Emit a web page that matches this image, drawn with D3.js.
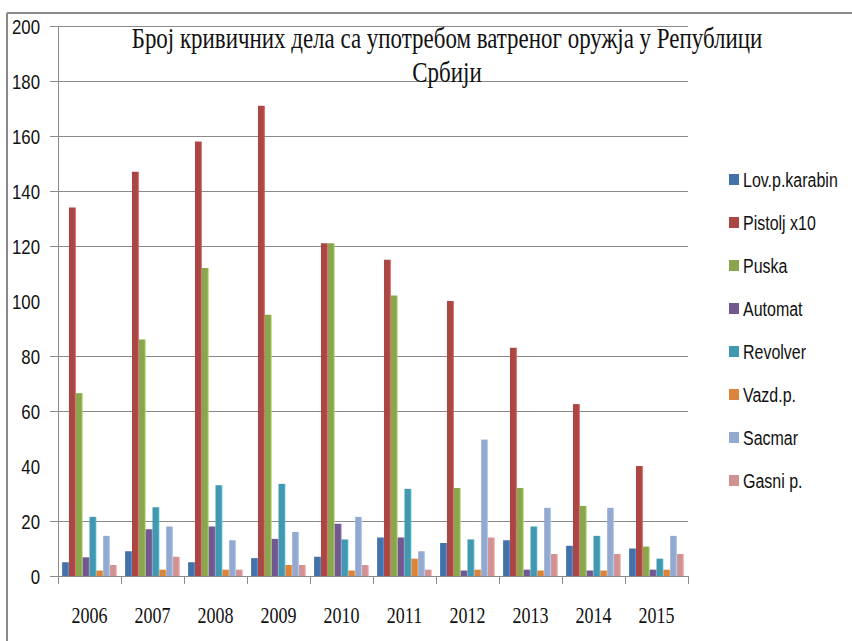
<!DOCTYPE html>
<html>
<head>
<meta charset="utf-8">
<script src="https://cdn.jsdelivr.net/npm/d3@7"></script>
<style>
  body { margin: 0; background: #fff; }
  text { fill: #111; }
</style>
</head>
<body>
<script>
var years = ['2006', '2007', '2008', '2009', '2010', '2011', '2012', '2013', '2014', '2015'];
var seriesNames = ['Lov.p.karabin', 'Pistolj x10', 'Puska', 'Automat', 'Revolver', 'Vazd.p.', 'Sacmar', 'Gasni p.'];
var seriesColors = ['#4372AA', '#AA4643', '#89A54E', '#71588F', '#4198AF', '#DB843D', '#93A9CF', '#D19392'];

var lovKarabin = [5, 9, 5, 6.5, 7, 14, 12, 13, 11, 10];
var pistolj    = [134, 147, 158, 171, 121, 115, 100, 83, 62.5, 40];
var puska      = [66.5, 86, 112, 95, 121, 102, 32, 32, 25.5, 10.7];
var automat    = [6.8, 17, 18, 13.5, 19, 14, 2, 2.3, 2, 2.3];
var revolver   = [21.5, 25, 33, 33.5, 13.3, 31.7, 13.3, 18, 14.6, 6.3];
var vazd       = [2, 2.3, 2.3, 4, 2, 6.3, 2.3, 2, 2, 2.3];
var sacmar     = [14.6, 18, 13, 16, 21.5, 9, 49.6, 24.8, 24.8, 14.6];
var gasni      = [4, 7, 2.3, 4, 4, 2.3, 14, 8, 8, 8];
var allSeries = [lovKarabin, pistolj, puska, automat, revolver, vazd, sacmar, gasni];

var yTicks = [0, 20, 40, 60, 80, 100, 120, 140, 160, 180, 200];
var missingGrid = [40, 100]; // these grid lines are not drawn in the picture

var titleLines = ['Број кривичних дела са употребом ватреног оружја у Републици', 'Србији'];

var width = 852, height = 641;
var svg = d3.select('body').append('svg')
    .attr('width', width)
    .attr('height', height);

// frame
svg.append('line').attr('x1', 7).attr('x2', width).attr('y1', 13).attr('y2', 13)
    .attr('stroke', '#8a8a8a').attr('stroke-width', 2);
svg.append('line').attr('x1', 7).attr('x2', 7).attr('y1', 13).attr('y2', height)
    .attr('stroke', '#8a8a8a').attr('stroke-width', 2);

var plotLeft = 58, plotRight = 688, plotTop = 26, plotBottom = 576;

var x0 = d3.scaleBand().domain(years).range([plotLeft, plotRight]).padding(0);
var x1 = d3.scaleBand().domain(d3.range(seriesNames.length))
    .range([0, x0.bandwidth()]).paddingInner(0).paddingOuter(0.6);
var y = d3.scaleLinear().domain([0, 200]).range([plotBottom, plotTop]);

// gradients for the bars (light stripe on the right edge)
var defs = svg.append('defs');
seriesColors.forEach(function (c, i) {
    var g = defs.append('linearGradient').attr('id', 'grad' + i)
        .attr('x1', '0%').attr('x2', '100%').attr('y1', '0%').attr('y2', '0%');
    g.append('stop').attr('offset', '0%').attr('stop-color', c);
    g.append('stop').attr('offset', '75%').attr('stop-color', c);
    g.append('stop').attr('offset', '100%').attr('stop-color', d3.color(c).brighter(0.7));
});

// grid lines + y ticks
var gridVals = yTicks.filter(function (v) { return missingGrid.indexOf(v) === -1 && v !== 0; });
svg.append('g').selectAll('line')
    .data(gridVals)
    .enter().append('line')
    .attr('x1', plotLeft - 8).attr('x2', plotRight)
    .attr('y1', function (d) { return Math.round(y(d)) + 0.5; })
    .attr('y2', function (d) { return Math.round(y(d)) + 0.5; })
    .attr('stroke', '#8a8a8a').attr('stroke-width', 1);

// y labels
svg.append('g').selectAll('g')
    .data(yTicks)
    .enter().append('g')
    .attr('transform', function (d) { return 'translate(40,' + (y(d) + 7.5) + ') scale(0.82,1)'; })
    .append('text')
    .attr('text-anchor', 'end')
    .style('font-family', 'Liberation Sans, Arial, sans-serif')
    .style('font-size', '20.5px')
    .text(function (d) { return d; });

// bars
var groups = svg.append('g').selectAll('g')
    .data(years)
    .enter().append('g')
    .attr('transform', function (d) { return 'translate(' + x0(d) + ',0)'; });

groups.selectAll('rect')
    .data(function (d, yi) { return allSeries.map(function (s, si) { return { si: si, v: s[yi] }; }); })
    .enter().append('rect')
    .attr('x', function (d) { return x1(d.si); })
    .attr('width', x1.bandwidth())
    .attr('y', function (d) { return y(d.v); })
    .attr('height', function (d) { return plotBottom - y(d.v); })
    .attr('fill', function (d) { return 'url(#grad' + d.si + ')'; });

// axes lines
svg.append('line').attr('x1', plotLeft + 0.5).attr('x2', plotLeft + 0.5)
    .attr('y1', plotTop).attr('y2', plotBottom + 8)
    .attr('stroke', '#8a8a8a');
svg.append('line').attr('x1', plotLeft - 8).attr('x2', plotRight)
    .attr('y1', plotBottom + 0.5).attr('y2', plotBottom + 0.5)
    .attr('stroke', '#8a8a8a');
svg.append('g').selectAll('line')
    .data(years.concat(['end']))
    .enter().append('line')
    .attr('x1', function (d, i) { return Math.round(plotLeft + i * x0.step()) + 0.5; })
    .attr('x2', function (d, i) { return Math.round(plotLeft + i * x0.step()) + 0.5; })
    .attr('y1', plotBottom).attr('y2', plotBottom + 8)
    .attr('stroke', '#8a8a8a');

// x labels
svg.append('g').selectAll('g')
    .data(years)
    .enter().append('g')
    .attr('transform', function (d) { return 'translate(' + (x0(d) + x0.bandwidth() / 2) + ',623) scale(0.8,1)'; })
    .append('text')
    .attr('text-anchor', 'middle')
    .style('font-family', 'Liberation Serif, Times New Roman, serif')
    .style('font-size', '22.5px')
    .text(function (d) { return d; });

// title
var titleG = svg.append('g');
var t1 = titleG.append('g').attr('transform', 'translate(447,48)');
var t1text = t1.append('text')
    .attr('text-anchor', 'middle')
    .style('font-family', 'Liberation Serif, Times New Roman, serif')
    .style('font-size', '28.5px')
    .text(titleLines[0]);
var natural = t1text.node().getComputedTextLength();
var sx = 631 / natural;
t1.attr('transform', 'translate(447,48) scale(' + sx + ',1)');
titleG.append('g').attr('transform', 'translate(447,82) scale(' + sx + ',1)')
    .append('text')
    .attr('text-anchor', 'middle')
    .style('font-family', 'Liberation Serif, Times New Roman, serif')
    .style('font-size', '28.5px')
    .text(titleLines[1]);

// legend
var legend = svg.append('g').selectAll('g')
    .data(seriesNames)
    .enter().append('g')
    .attr('transform', function (d, i) { return 'translate(729,' + (179 + i * 43) + ')'; });
legend.append('rect')
    .attr('x', 0).attr('y', -5).attr('width', 10).attr('height', 11)
    .attr('fill', function (d, i) { return seriesColors[i]; });
legend.append('g')
    .attr('transform', 'translate(14,7.5) scale(0.82,1)')
    .append('text')
    .style('font-family', 'Liberation Sans, Arial, sans-serif')
    .style('font-size', '19.5px')
    .text(function (d) { return d; });
</script>
</body>
</html>
